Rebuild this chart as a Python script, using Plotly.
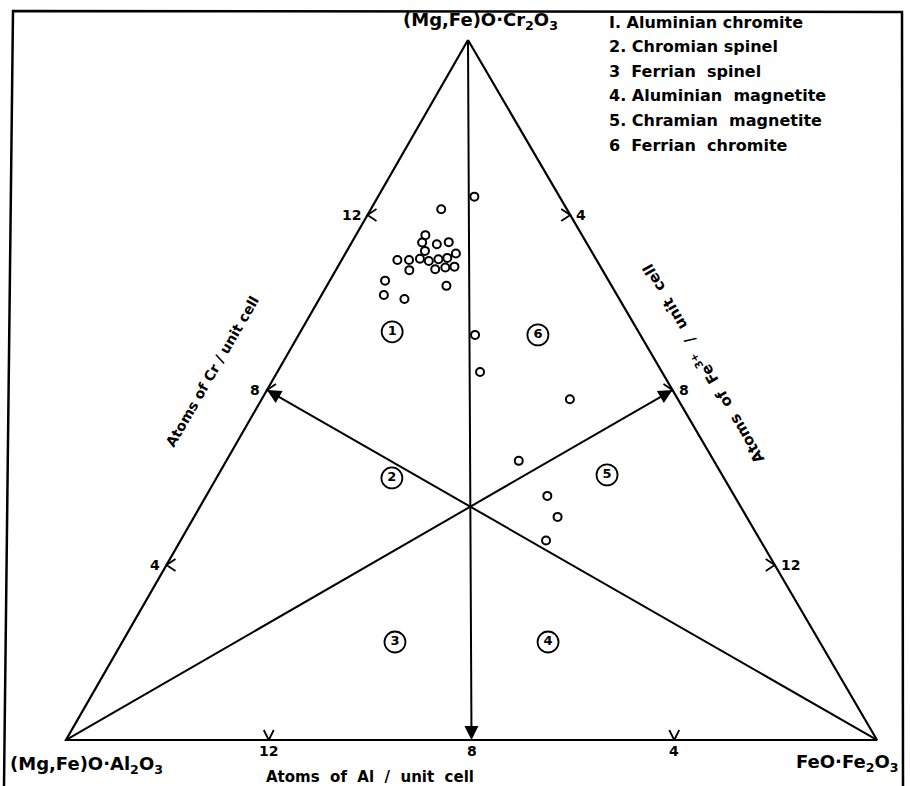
import plotly.graph_objects as go

TOTAL = 16  # atoms per unit cell (Cr + Al + Fe3+)

# ---- data: atoms per unit cell ----
pt_cr = [12.42, 12.13, 11.54, 11.37, 11.33, 11.38, 11.18, 10.97, 10.97, 11.00,
         10.95, 10.99, 11.02, 11.12, 10.76, 10.80, 10.82, 10.74, 10.50, 10.38,
         10.17, 10.08, 9.26, 8.41, 7.79, 6.38, 5.58, 5.10, 4.56]
pt_al = [1.68, 2.48, 3.09, 3.24, 2.97, 2.71, 3.28, 3.93, 3.70, 3.47,
         3.32, 3.11, 2.92, 2.70, 3.29, 3.07, 2.88, 3.81, 4.41, 3.26,
         4.60, 4.24, 3.26, 3.59, 2.13, 3.85, 3.69, 3.73, 4.23]
pt_fe = [1.90, 1.39, 1.37, 1.39, 1.70, 1.91, 1.54, 1.10, 1.33, 1.53,
         1.73, 1.90, 2.06, 2.18, 1.95, 2.13, 2.30, 1.45, 1.09, 2.36,
         1.23, 1.68, 3.48, 4.00, 6.08, 5.77, 6.73, 7.17, 7.21]

region_ids = ["1", "2", "3", "4", "5", "6"]
region_cr = [9.33, 5.99, 2.24, 2.24, 6.06, 9.26]
region_al = [4.86, 6.55, 8.38, 5.36, 2.27, 2.02]
region_fe = [1.81, 3.46, 5.38, 8.40, 7.67, 4.72]

legend_items = ["I. Aluminian chromite", "2. Chromian spinel", "3  Ferrian  spinel",
                "4. Aluminian  magnetite", "5. Chramian  magnetite", "6  Ferrian  chromite"]

tick_values = [4, 8, 12]
vertex_labels = ["(Mg,Fe)O·Cr<sub>2</sub>O<sub>3</sub>",
                 "(Mg,Fe)O·Al<sub>2</sub>O<sub>3</sub>",
                 "FeO·Fe<sub>2</sub>O<sub>3</sub>"]
axis_titles = ["Atoms of Cr / unit cell",
               "Atoms  of  Al  /  unit  cell",
               "Atoms  of  Fe<sup>3+</sup>  /  unit  cell"]

# ---- geometry of the drawn triangle (screen units) ----
A = (468, 40)    # Cr apex
B = (66, 740)    # Al corner
C = (877, 740)   # Fe corner
FONT = "'DejaVu Sans', Verdana, sans-serif"
INK = "black"


def proj(c, a, f):
    s = c + a + f
    return ((c * A[0] + a * B[0] + f * C[0]) / s,
            (c * A[1] + a * B[1] + f * C[1]) / s)


def bold(s):
    return "<b>" + s + "</b>"


fig = go.Figure()

# triangle outline
tri = [proj(TOTAL, 0, 0), proj(0, TOTAL, 0), proj(0, 0, TOTAL), proj(TOTAL, 0, 0)]
fig.add_trace(go.Scatter(x=[p[0] for p in tri], y=[p[1] for p in tri], mode="lines",
                         line=dict(color=INK, width=2.2), hoverinfo="skip"))

# tick chevrons
cx, cy = [], []
for t in tick_values:
    x, y = proj(t, TOTAL - t, 0)          # left side (Cr)
    cx += [x + 9, x, x + 9, None]
    cy += [y - 6, y, y + 6, None]
    x, y = proj(TOTAL - t, 0, t)          # right side (Fe3+)
    cx += [x - 9, x, x - 9, None]
    cy += [y - 6, y, y + 6, None]
    if t != 8:                            # bottom (Al)
        x, y = proj(0, t, TOTAL - t)
        cx += [x - 5, x, x + 5, None]
        cy += [y - 10, y, y - 10, None]
fig.add_trace(go.Scatter(x=cx, y=cy, mode="lines", line=dict(color=INK, width=1.8),
                         hoverinfo="skip"))

# median arrows
half = TOTAL / 2
arrows = [((TOTAL, 0, 0), (0, half, half)),
          ((0, TOTAL, 0), (half, 0, half)),
          ((0, 0, TOTAL), (half, half, 0))]
for tail, head in arrows:
    tx, ty = proj(*tail)
    hx, hy = proj(*head)
    fig.add_annotation(x=hx, y=hy, ax=tx, ay=ty, xref="x", yref="y", axref="x", ayref="y",
                       showarrow=True, arrowhead=2, arrowsize=1.4, arrowwidth=2,
                       arrowcolor=INK, text="")

# tick labels
TF = dict(family=FONT, size=14, color=INK)
for t in tick_values:
    x, y = proj(t, TOTAL - t, 0)
    fig.add_annotation(x=x - 5, y=y, text=bold(str(t)), showarrow=False, xanchor="right",
                       font=TF, xref="x", yref="y")
    x, y = proj(TOTAL - t, 0, t)
    fig.add_annotation(x=x + 4, y=y, text=bold(str(t)), showarrow=False, xanchor="left",
                       font=TF, xref="x", yref="y")
    x, y = proj(0, t, TOTAL - t)
    fig.add_annotation(x=x, y=y + 11, text=bold(str(t)), showarrow=False,
                       font=TF, xref="x", yref="y")

# vertex labels
VF = dict(family=FONT, size=18, color=INK)
fig.add_annotation(x=A[0] + 12, y=A[1] - 19, text=bold(vertex_labels[0]), showarrow=False,
                   font=VF, xref="x", yref="y")
fig.add_annotation(x=B[0] + 20, y=B[1] + 25, text=bold(vertex_labels[1]), showarrow=False,
                   font=VF, xref="x", yref="y")
fig.add_annotation(x=C[0] - 30, y=C[1] + 23, text=bold(vertex_labels[2]), showarrow=False,
                   font=VF, xref="x", yref="y")

# axis titles
AF = dict(family=FONT, size=15, color=INK)
lx, ly = proj(half, half, 0)
fig.add_annotation(x=lx - 55, y=ly - 18, text=bold(axis_titles[0]), showarrow=False,
                   textangle=-60, font=dict(family=FONT, size=14, color=INK),
                   xref="x", yref="y")
fig.add_annotation(x=370, y=B[1] + 37, text=bold(axis_titles[1]), showarrow=False,
                   font=AF, xref="x", yref="y")
rx, ry = proj(half, 0, half)
fig.add_annotation(x=rx + 30, y=ry - 26, text=bold(axis_titles[2]), showarrow=False,
                   textangle=-120, font=AF, xref="x", yref="y")

# data points
px, py = zip(*[proj(c, a, f) for c, a, f in zip(pt_cr, pt_al, pt_fe)])
fig.add_trace(go.Scatter(x=px, y=py, mode="markers",
                         marker=dict(symbol="circle-open", size=8, color=INK,
                                     line=dict(width=2, color=INK)),
                         customdata=list(zip(pt_cr, pt_al, pt_fe)),
                         hovertemplate="Cr %{customdata[0]}<br>Al %{customdata[1]}"
                                       "<br>Fe %{customdata[2]}<extra></extra>"))

# region labels
rxs, rys = zip(*[proj(c, a, f) for c, a, f in zip(region_cr, region_al, region_fe)])
fig.add_trace(go.Scatter(x=rxs, y=rys, mode="markers+text", text=[bold(r) for r in region_ids],
                         textposition="middle center",
                         textfont=dict(family=FONT, size=13, color=INK),
                         marker=dict(symbol="circle-open", size=21, color=INK,
                                     line=dict(width=1.8, color=INK)),
                         hoverinfo="skip"))

# legend text (top right)
for i, item in enumerate(legend_items):
    fig.add_annotation(x=607, y=22 + i * 24.6, text=bold(item), showarrow=False,
                       xanchor="left", font=dict(family=FONT, size=16, color=INK),
                       xref="x", yref="y")

# frame of the original figure
fig.add_shape(type="path", path="M 4,786 L 13,11 L 902,12 L 903,786",
              line=dict(color=INK, width=2.5), xref="x", yref="y")

fig.update_layout(
    width=910, height=786, margin=dict(l=0, r=0, t=0, b=0),
    paper_bgcolor="white", plot_bgcolor="white", showlegend=False,
    xaxis=dict(range=[0, 910], visible=False, fixedrange=True),
    yaxis=dict(range=[786, 0], visible=False, fixedrange=True),
    font=dict(family=FONT, color=INK),
)

fig.write_html("out.html", config={"displayModeBar": False},
               post_script="document.body.style.margin='0px';")
